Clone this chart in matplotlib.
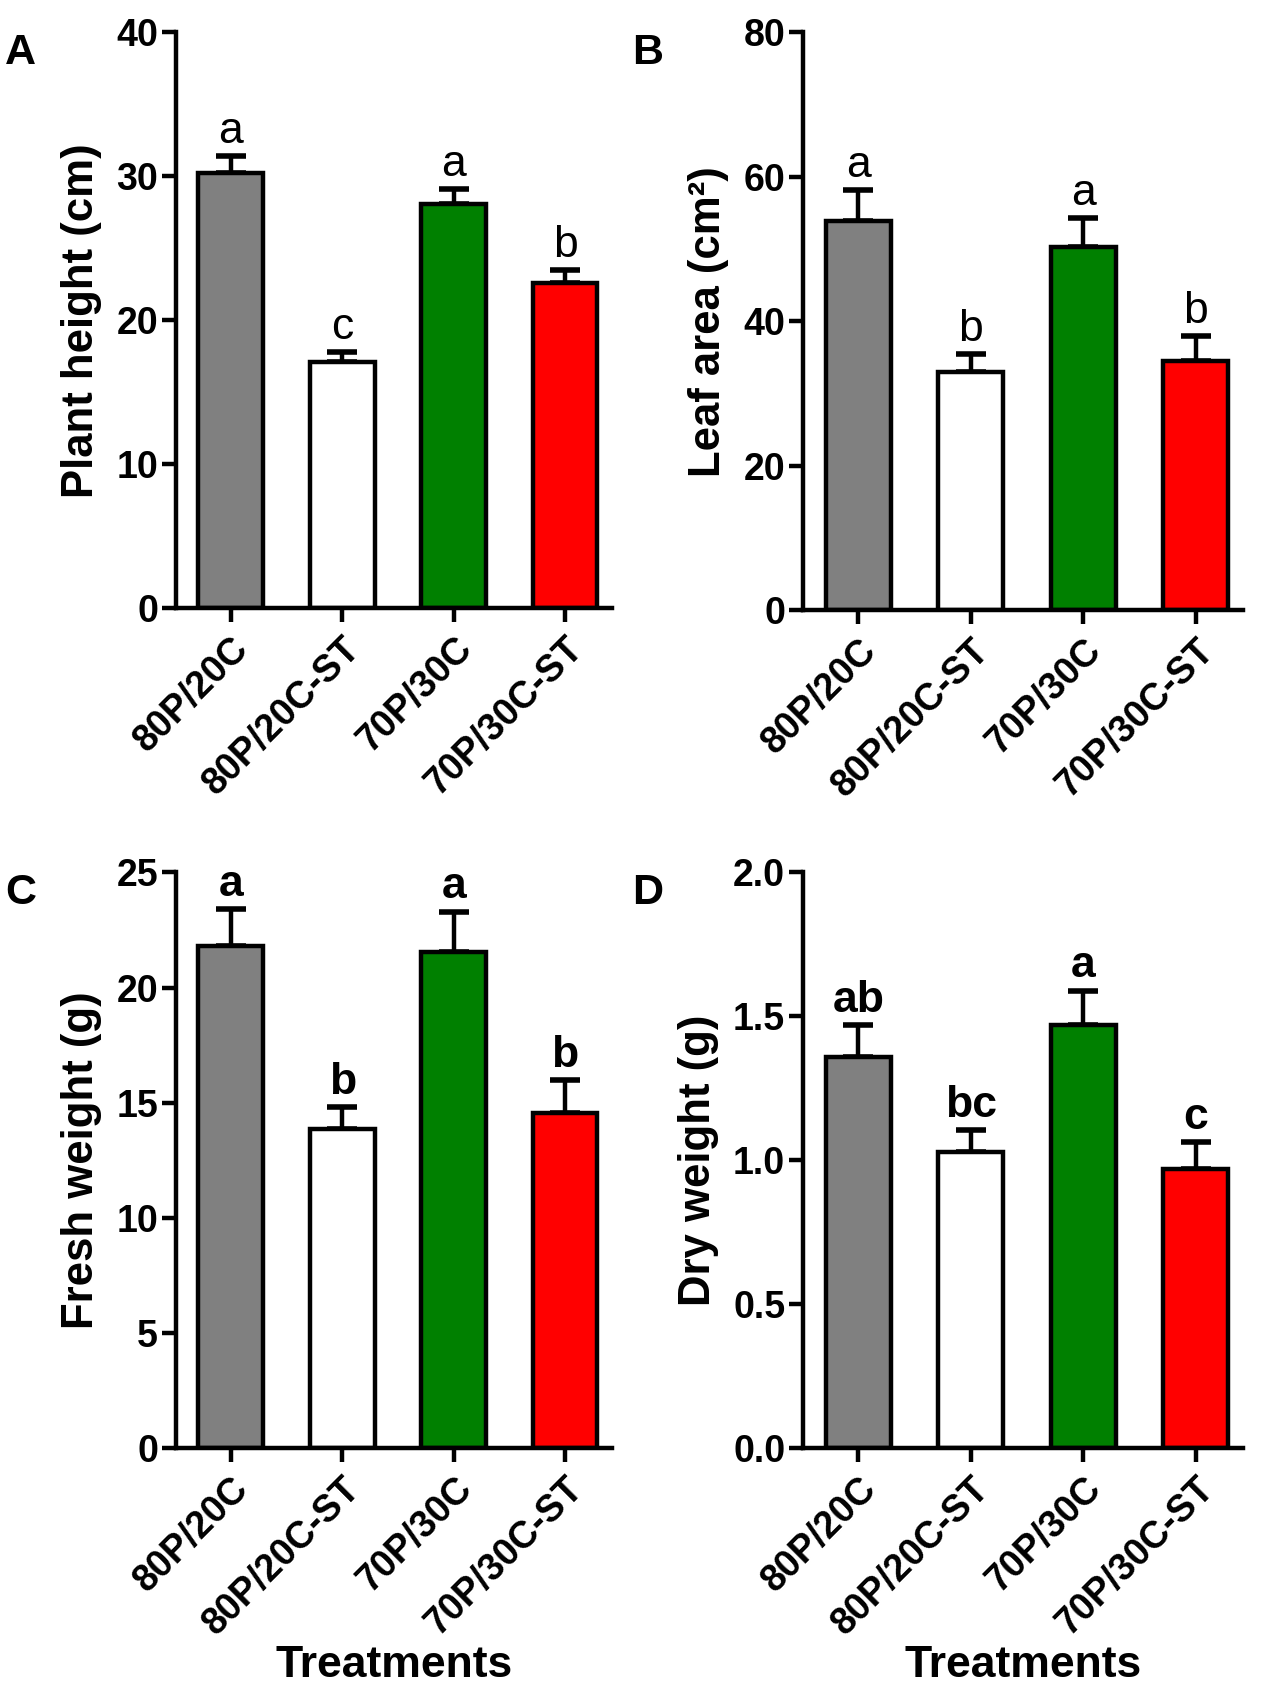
import numpy as np
import matplotlib.pyplot as plt

plt.rcParams['font.family'] = ['Liberation Sans', 'DejaVu Sans']
plt.rcParams['font.weight'] = 'bold'

treatments = ['80P/20C', '80P/20C-ST', '70P/30C', '70P/30C-ST']
bar_colors = ['#808080', '#ffffff', '#008000', '#ff0000']

# panel A: plant height
height_mean = [30.2, 17.1, 28.1, 22.6]
height_err = [1.2, 0.7, 1.0, 0.9]
height_letters = ['a', 'c', 'a', 'b']

# panel B: leaf area
area_mean = [53.9, 33.0, 50.3, 34.5]
area_err = [4.3, 2.4, 4.0, 3.4]
area_letters = ['a', 'b', 'a', 'b']

# panel C: fresh weight
fresh_mean = [21.8, 13.85, 21.55, 14.55]
fresh_err = [1.6, 0.95, 1.75, 1.45]
fresh_letters = ['a', 'b', 'a', 'b']

# panel D: dry weight
dry_mean = [1.36, 1.03, 1.47, 0.97]
dry_err = [0.11, 0.075, 0.12, 0.095]
dry_letters = ['ab', 'bc', 'a', 'c']

fig = plt.figure(figsize=(12.67, 17.04), dpi=100)

panels = [
    ('A', [0.139, 0.643, 0.344, 0.338], height_mean, height_err, height_letters,
     'Plant height (cm)', (0, 40), [0, 10, 20, 30, 40], 'normal', None),
    ('B', [0.634, 0.642, 0.347, 0.339], area_mean, area_err, area_letters,
     'Leaf area (cm²)', (0, 80), [0, 20, 40, 60, 80], 'normal', None),
    ('C', [0.139, 0.150, 0.344, 0.338], fresh_mean, fresh_err, fresh_letters,
     'Fresh weight (g)', (0, 25), [0, 5, 10, 15, 20, 25], 'bold', 'Treatments'),
    ('D', [0.634, 0.150, 0.347, 0.338], dry_mean, dry_err, dry_letters,
     'Dry weight (g)', (0, 2.0), [0.0, 0.5, 1.0, 1.5, 2.0], 'bold', 'Treatments'),
]

x = np.arange(len(treatments))

for tag, rect, mean, err, letters, ylab, ylim, yticks, lw_letter, xlab in panels:
    ax = fig.add_axes(rect)
    ax.bar(x, mean, width=0.58, color=bar_colors, edgecolor='black',
           linewidth=3.2, zorder=2)
    ax.errorbar(x, mean, yerr=[np.zeros(4), err], fmt='none', ecolor='black',
                elinewidth=3.2, capsize=11, capthick=4, zorder=1)
    for xi, m, e, lt in zip(x, mean, err, letters):
        ax.annotate(lt, (xi, m + e), xytext=(0, 3), textcoords='offset points',
                    ha='center', va='bottom', fontsize=32, fontweight=lw_letter)
    ax.set_xlim(-0.49, 3.42)
    ax.set_ylim(*ylim)
    ax.set_yticks(yticks)
    if ylim[1] == 2.0:
        ax.set_yticklabels(['%.1f' % v for v in yticks])
    ax.set_xticks(x)
    ax.set_xticklabels(treatments, rotation=45, ha='right', rotation_mode='anchor',
                       fontsize=27, fontweight='bold')
    ax.tick_params(axis='y', labelsize=27, width=3.2, length=10, direction='out', pad=3)
    ax.tick_params(axis='x', width=3.2, length=10, direction='out', pad=6)
    for s in ['top', 'right']:
        ax.spines[s].set_visible(False)
    for s in ['left', 'bottom']:
        ax.spines[s].set_linewidth(3.2)
    ax.set_ylabel(ylab, fontsize=31.5, fontweight='bold', labelpad=10)
    if xlab:
        ax.set_xlabel(xlab, fontsize=32, fontweight='bold', labelpad=2)
    fig.text(rect[0] - 0.135, rect[1] + rect[3] - 0.012, tag, fontsize=31,
             fontweight='bold', ha='left', va='center')

plt.savefig('out.png', dpi=100)
